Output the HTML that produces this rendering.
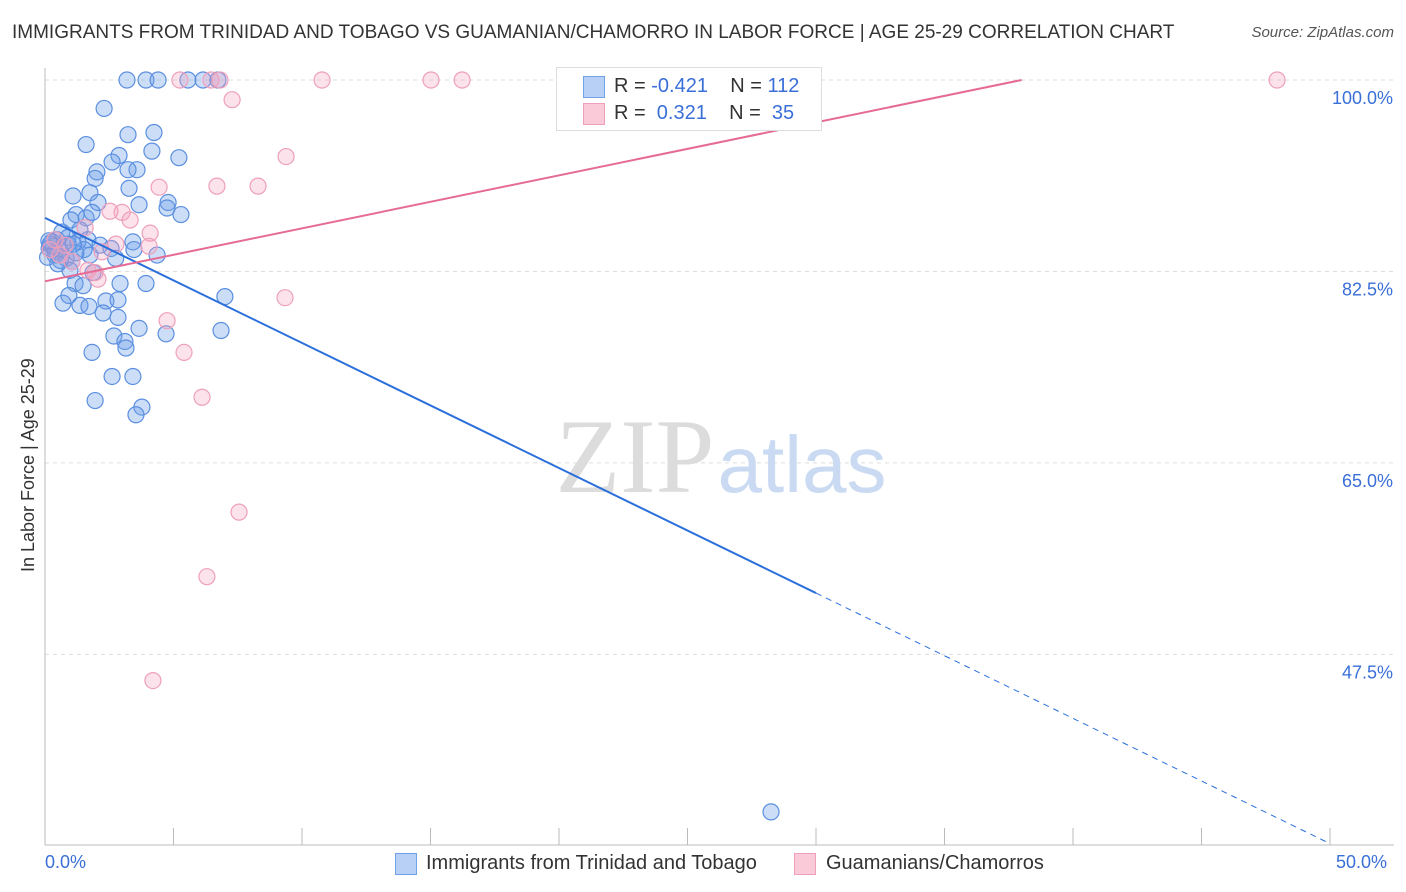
<!DOCTYPE html>
<html><head><meta charset="utf-8"><style>
body{margin:0;background:#fff;font-family:"Liberation Sans",sans-serif;}
#wrap{position:relative;width:1406px;height:892px;overflow:hidden;}
.t{position:absolute;white-space:nowrap;}
</style></head><body>
<div id="wrap">
<div class="t" style="left:12px;top:22px;font-size:19px;color:#333;">IMMIGRANTS FROM TRINIDAD AND TOBAGO VS GUAMANIAN/CHAMORRO IN LABOR FORCE | AGE 25-29 CORRELATION CHART</div>
<div class="t" style="right:12px;top:24px;font-size:15px;color:#555;font-style:italic;">Source: ZipAtlas.com</div>
<div class="t" style="left:18px;top:572px;font-size:18px;color:#333;transform:rotate(-90deg);transform-origin:0 0;">In Labor Force | Age 25-29</div>
<svg id="svg" width="1406" height="892" style="position:absolute;left:0;top:0"></svg>
</div>
<script>
const blueX=[3.19,3.93,4.40,5.56,6.15,6.73,2.30,3.23,4.24,1.60,2.88,4.16,2.61,5.21,2.02,3.58,3.23,1.95,3.27,1.09,1.75,2.06,3.66,4.79,4.75,5.29,1.21,1.60,1.83,1.01,1.36,0.66,0.47,0.89,1.28,1.67,2.14,3.42,2.57,0.27,0.16,0.39,0.58,0.82,1.05,1.52,1.75,2.75,4.36,3.46,0.97,1.87,3.93,2.92,1.17,1.48,0.93,7.0,0.70,1.36,1.71,2.37,2.84,2.26,2.84,3.66,4.71,6.85,2.68,3.11,3.15,1.83,2.61,3.42,1.95,3.77,3.54,28.25,0.2,0.4,0.1,0.3,0.6,0.9,1.2,0.5,0.15,1.1];
const blueY=[100,100,100,100,100,100,97.4,95.0,95.2,94.1,93.1,93.5,92.5,92.9,91.6,91.8,91.8,91.0,90.1,89.4,89.7,88.8,88.6,88.8,88.3,87.7,87.7,87.4,87.9,87.2,86.3,86.1,85.4,85.6,85.2,85.4,84.9,85.2,84.6,85.2,84.6,84.0,84.5,83.7,83.4,84.5,84.0,83.7,84.0,84.5,82.6,82.4,81.4,81.4,81.4,81.2,80.3,80.2,79.6,79.4,79.3,79.8,79.9,78.7,78.3,77.3,76.8,77.1,76.6,76.1,75.5,75.1,72.9,72.9,70.7,70.1,69.4,33.1,85.0,84.3,83.8,84.8,83.5,85.0,84.2,83.2,85.3,85.0];
const pinkX=[5.25,6.46,6.81,10.78,15.02,16.23,47.94,7.28,9.38,4.44,6.69,8.29,2.53,3.0,3.31,1.56,4.09,2.76,4.05,2.22,0.58,1.05,1.95,1.67,2.06,0.39,9.34,4.75,5.41,6.11,7.55,6.30,4.20,0.2,0.78];
const pinkY=[100,100,100,100,100,100,100,98.2,93.0,90.2,90.3,90.3,88.0,87.9,87.2,86.5,86.0,85.0,84.8,84.3,84.0,83.4,82.4,82.6,81.8,85.4,80.1,78.0,75.1,71.0,60.5,54.6,45.1,84.5,84.9];
const yTicks=[100,82.5,65,47.5];
const blueLine=[0,87.4,30,53.1,50,30.2];
const pinkLine=[0,81.6,38,100];
const sx=v=>45+v*25.7, sy=v=>80+(100-v)*10.94;
const NS="http://www.w3.org/2000/svg", svg=document.getElementById('svg');
function mk(t,a,name,p){const e=document.createElementNS(NS,t);for(const k in a)e.setAttribute(k,a[k]);


(p||svg).appendChild(e);return e;}
yTicks.forEach(v=>{mk('line',{x1:45,x2:1394,y1:sy(v),y2:sy(v),stroke:'#ddd','stroke-dasharray':'4,4'},'grid-line');
const t=mk('text',{x:1393,y:sy(v)+24,'text-anchor':'end','font-size':18,fill:'#3a6fd8','font-family':'Liberation Sans'},'y-tick-label');t.textContent=v.toFixed(1)+'%';});
mk('line',{x1:45,x2:45,y1:68,y2:845,stroke:'#bbb'},'y-axis');
mk('line',{x1:45,x2:1394,y1:845,y2:845,stroke:'#bbb'},'x-axis');
for(let i=0;i<=10;i++)mk('line',{x1:sx(i*5),x2:sx(i*5),y1:828,y2:845,stroke:'#bbb'},'x-tick');
const w1=mk('text',{x:635,y:492,'text-anchor':'middle','font-size':106,fill:'#dcdcdc','font-family':'Liberation Serif'},'watermark-zip');w1.textContent='ZIP';
const w2=mk('text',{x:802,y:492,'text-anchor':'middle','font-size':80,fill:'#c9daf2','font-family':'Liberation Sans'},'watermark-atlas');w2.textContent='atlas';
blueX.forEach((x,i)=>mk('circle',{cx:sx(x),cy:sy(blueY[i]),r:8,fill:'rgba(110,160,232,0.35)',stroke:'#5b8fe0','stroke-width':1.2},'blue-point'));
pinkX.forEach((x,i)=>mk('circle',{cx:sx(x),cy:sy(pinkY[i]),r:8,fill:'rgba(245,160,190,0.3)',stroke:'#eea0bb','stroke-width':1.2},'pink-point'));
mk('line',{x1:sx(blueLine[0]),y1:sy(blueLine[1]),x2:sx(blueLine[2]),y2:sy(blueLine[3]),stroke:'#2a6fdb','stroke-width':2},'blue-trend-line');
mk('line',{x1:sx(blueLine[2]),y1:sy(blueLine[3]),x2:sx(blueLine[4]),y2:sy(blueLine[5]),stroke:'#2a6fdb','stroke-width':1,'stroke-dasharray':'6,5'},'blue-trend-extension');
mk('line',{x1:sx(pinkLine[0]),y1:sy(pinkLine[1]),x2:sx(pinkLine[2]),y2:sy(pinkLine[3]),stroke:'#e56b95','stroke-width':2},'pink-trend-line');
</script>
<div class="t" style="left:556px;top:67px;width:264px;height:62px;border:1px solid #ddd;background:#fff;font-size:20px;color:#333;">
<div style="position:absolute;left:26px;top:8px;width:20px;height:20px;background:#b8d0f5;border:1px solid #6fa0e8;"></div>
<div style="position:absolute;left:26px;top:35px;width:20px;height:20px;background:#fbcad9;border:1px solid #eea0bb;"></div>
<div style="position:absolute;left:57px;top:7px;">R = <span style="color:#3a6fd8">-0.421</span>&nbsp;&nbsp;&nbsp; N = <span style="color:#3a6fd8">112</span></div>
<div style="position:absolute;left:57px;top:34px;">R = &nbsp;<span style="color:#3a6fd8">0.321</span>&nbsp;&nbsp;&nbsp; N = &nbsp;<span style="color:#3a6fd8">35</span></div>
</div>
<div class="t" style="left:45px;top:852px;font-size:18px;color:#3a6fd8;">0.0%</div>
<div class="t" style="left:1336px;top:852px;font-size:18px;color:#3a6fd8;">50.0%</div>
<div class="t" style="left:395px;top:853px;width:20px;height:20px;background:#b8d0f5;border:1px solid #6fa0e8;"></div>
<div class="t" style="left:426px;top:852px;font-size:20px;color:#333;">Immigrants from Trinidad and Tobago</div>
<div class="t" style="left:794px;top:853px;width:20px;height:20px;background:#fbcad9;border:1px solid #eea0bb;"></div>
<div class="t" style="left:826px;top:852px;font-size:20px;color:#333;">Guamanians/Chamorros</div>
</body></html>
